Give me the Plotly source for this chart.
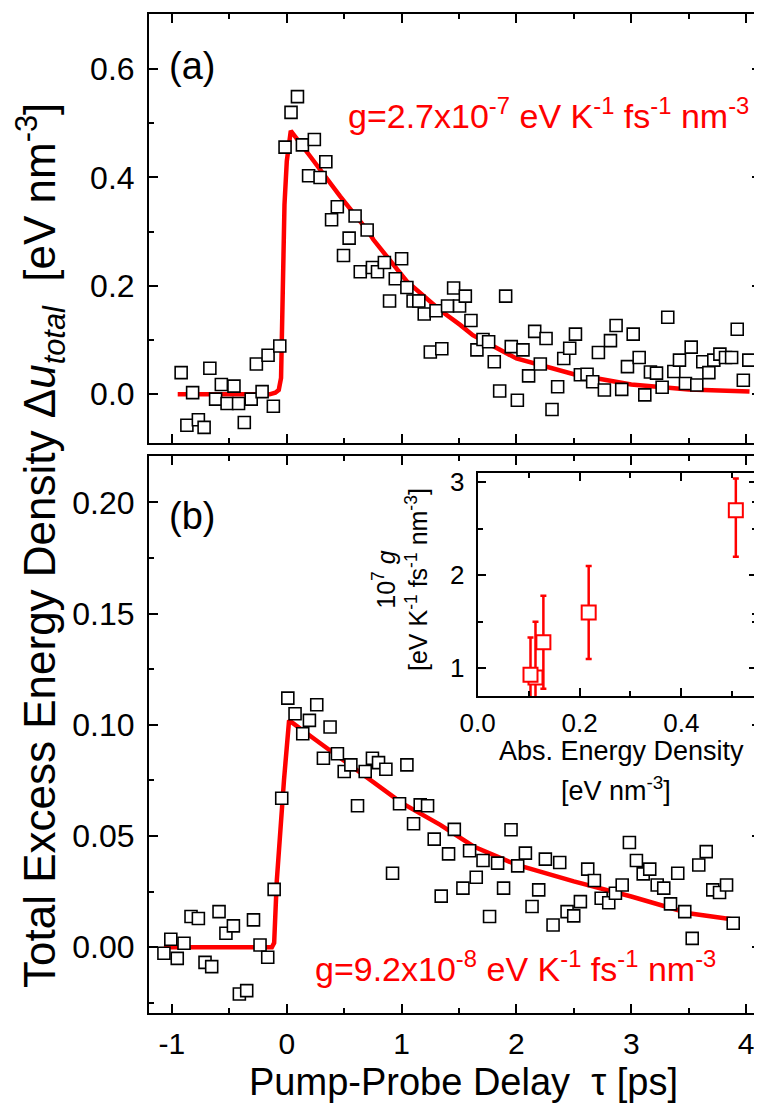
import plotly.graph_objects as go

# ---------------- data: panel (a) ----------------
a_delay = [-0.92, -0.87, -0.82, -0.77, -0.72, -0.67, -0.62, -0.57, -0.52, -0.46,
           -0.42, -0.37, -0.31, -0.265, -0.215, -0.163, -0.117, -0.061, -0.015, 0.037,
           0.093, 0.136, 0.19, 0.24, 0.29, 0.34, 0.39, 0.44, 0.494, 0.543,
           0.595, 0.64, 0.70, 0.746, 0.79, 0.85, 0.895, 0.945, 1.0, 1.046,
           1.10, 1.15, 1.197, 1.25, 1.30, 1.35, 1.40, 1.453, 1.505, 1.555,
           1.604, 1.656, 1.709, 1.758, 1.807, 1.854, 1.906, 1.955, 2.008, 2.057,
           2.106, 2.159, 2.208, 2.258, 2.31, 2.359, 2.412, 2.464, 2.514, 2.557,
           2.615, 2.664, 2.714, 2.766, 2.819, 2.868, 2.917, 2.967, 3.017, 3.069,
           3.118, 3.167, 3.22, 3.269, 3.318, 3.371, 3.42, 3.472, 3.522, 3.571,
           3.623, 3.676, 3.719, 3.772, 3.821, 3.874, 3.923, 3.976, 4.024]
a_energy = [0.040, -0.057, 0.003, -0.047, -0.061, 0.048, -0.009, 0.018, -0.017, 0.015,
            -0.017, -0.052, -0.009, 0.056, 0.005, 0.072, -0.022, 0.089, 0.456, 0.520,
            0.549, 0.460, 0.403, 0.470, 0.400, 0.429, 0.322, 0.346, 0.256, 0.288,
            0.329, 0.226, 0.303, 0.234, 0.226, 0.243, 0.172, 0.213, 0.250, 0.197,
            0.172, 0.172, 0.148, 0.078, 0.154, 0.084, 0.163, 0.196, 0.163, 0.181,
            0.136, 0.082, 0.101, 0.097, 0.060, 0.006, 0.181, 0.088, -0.011, 0.082,
            0.034, 0.116, 0.056, 0.103, -0.028, 0.014, 0.066, 0.085, 0.111, 0.036,
            0.037, 0.023, 0.077, 0.008, 0.099, 0.127, 0.009, 0.051, 0.111, 0.068,
            -0.001, 0.041, 0.039, 0.013, 0.142, 0.042, 0.063, 0.020, 0.087, 0.017,
            0.060, 0.040, 0.063, 0.074, 0.068, 0.068, 0.120, 0.026, 0.063]
a_fit_delay = [-0.95, -0.15, -0.10, -0.07, -0.05, -0.035, -0.02, 0.0, 0.035, 0.2,
               0.465, 0.70, 0.755, 1.046, 1.336, 1.51, 1.62, 2.0, 2.5, 3.0, 3.5, 4.03]
a_fit_energy = [0.0, 0.0, 0.003, 0.008, 0.03, 0.2, 0.35, 0.43, 0.486, 0.44,
                0.365, 0.303, 0.285, 0.208, 0.155, 0.128, 0.109, 0.066, 0.037, 0.018, 0.009, 0.005]

# ---------------- data: panel (b) ----------------
b_delay = [-1.07, -1.01, -0.954, -0.895, -0.834, -0.77, -0.712, -0.654, -0.59, -0.53,
           -0.465, -0.413, -0.349, -0.29, -0.233, -0.166, -0.11, -0.044, 0.009, 0.072,
           0.139, 0.197, 0.261, 0.319, 0.377, 0.441, 0.50, 0.558, 0.616, 0.683,
           0.746, 0.799, 0.863, 0.921, 0.982, 1.046, 1.104, 1.162, 1.226, 1.284,
           1.345, 1.409, 1.459, 1.534, 1.592, 1.65, 1.709, 1.766, 1.836, 1.888,
           1.953, 2.011, 2.078, 2.136, 2.194, 2.252, 2.319, 2.377, 2.441, 2.499,
           2.557, 2.621, 2.679, 2.738, 2.804, 2.862, 2.921, 2.984, 3.045, 3.104,
           3.161, 3.226, 3.283, 3.342, 3.405, 3.466, 3.531, 3.588, 3.653, 3.71,
           3.769, 3.83, 3.888]
b_energy = [-0.0027, 0.0036, -0.005, 0.0018, 0.0138, 0.0129, -0.0068, -0.0087, 0.016, 0.0063,
            0.0096, -0.021, -0.0195, 0.0123, 0.001, -0.0045, 0.026, 0.067, 0.112, 0.105,
            0.096, 0.102, 0.109, 0.085, 0.099, 0.087, 0.079, 0.082, 0.0636, 0.079,
            0.085, 0.083, 0.080, 0.0333, 0.0645, 0.082, 0.0555, 0.064, 0.0636, 0.0486,
            0.023, 0.042, 0.053, 0.0266, 0.0434, 0.0315, 0.039, 0.0138, 0.0378, 0.0266,
            0.0528, 0.0366, 0.0423, 0.0183, 0.0258, 0.0396, 0.010, 0.0381, 0.016, 0.0141,
            0.0205, 0.0351, 0.030, 0.022, 0.020, 0.0243, 0.028, 0.0471, 0.039, 0.033,
            0.0351, 0.028, 0.0266, 0.0195, 0.0333, 0.016, 0.004, 0.037, 0.043, 0.0258,
            0.0246, 0.028, 0.0108]
b_fit_delay = [-1.07, -0.13, -0.11, -0.087, -0.024, 0.02, 0.3, 0.5, 0.842, 1.0,
               1.337, 1.627, 2.005, 2.5, 3.0, 3.5, 3.89]
b_fit_energy = [0.0, 0.0, 0.002, 0.030, 0.0754, 0.102, 0.0914, 0.0839, 0.0709, 0.0649,
                0.055, 0.0453, 0.037, 0.0296, 0.0228, 0.0153, 0.0125]

# ---------------- data: inset ----------------
inset_abs_density = [0.507, 0.218, 0.129, 0.1135, 0.1037]
inset_g = [2.7, 1.6, 1.28, 0.9, 0.93]
inset_err_plus = [0.34, 0.5, 0.5, 0.6, 0.4]
inset_err_minus = [0.5, 0.5, 0.5, 0.6, 0.4]

x_tick_vals = [-1, 0, 1, 2, 3, 4]
x_tick_text = ["-1", "0", "1", "2", "3", "4"]

PAGE_PAD = 8          # default body margin of the html page
W, H = 762 - PAGE_PAD, 1104 - PAGE_PAD
FONT = "Liberation Sans, Arial, Helvetica, sans-serif"
RED = "#ff0000"


def px(x):
    return (x - PAGE_PAD) / W


def py(y):
    return 1 - (y - PAGE_PAD) / H


fig = go.Figure()

# panel (a)
fig.add_trace(go.Scatter(x=a_fit_delay, y=a_fit_energy, mode="lines",
                         line=dict(color=RED, width=4.5), xaxis="x", yaxis="y",
                         showlegend=False, hoverinfo="skip"))
fig.add_trace(go.Scatter(x=a_delay, y=a_energy, mode="markers",
                         marker=dict(symbol="square", size=12, color="white",
                                     line=dict(color="black", width=1.6)),
                         xaxis="x", yaxis="y", showlegend=False))
# panel (b)
fig.add_trace(go.Scatter(x=b_fit_delay, y=b_fit_energy, mode="lines",
                         line=dict(color=RED, width=4.5), xaxis="x2", yaxis="y2",
                         showlegend=False, hoverinfo="skip"))
fig.add_trace(go.Scatter(x=b_delay, y=b_energy, mode="markers",
                         marker=dict(symbol="square", size=12, color="white",
                                     line=dict(color="black", width=1.6)),
                         xaxis="x2", yaxis="y2", showlegend=False))
# inset
fig.add_trace(go.Scatter(x=inset_abs_density, y=inset_g, mode="markers",
                         marker=dict(symbol="square", size=14, color="white",
                                     line=dict(color=RED, width=2)),
                         error_y=dict(type="data", symmetric=False, array=inset_err_plus,
                                      arrayminus=inset_err_minus, color=RED,
                                      thickness=2.5, width=3),
                         xaxis="x3", yaxis="y3", showlegend=False))

xd = [px(149), px(761)]
common = dict(showline=True, linecolor="black", linewidth=2, mirror="ticks",
              ticks="inside", tickwidth=2, tickcolor="black", showgrid=False,
              zeroline=False, automargin=False,
              tickfont=dict(family=FONT, size=32, color="black"))


def minor(d):
    return dict(ticks="inside", ticklen=5, dtick=d, tick0=0, tickwidth=2, tickcolor="black")


xtick_font = dict(family=FONT, size=30, color="black")

fig.update_layout(
    width=W, height=H,
    margin=dict(l=0, r=0, t=0, b=0, autoexpand=False),
    paper_bgcolor="white", plot_bgcolor="rgba(0,0,0,0)",
    font=dict(family=FONT, color="black"),
    xaxis=dict(domain=xd, range=[-1.2, 4.13], anchor="y", tickmode="array",
               tickvals=x_tick_vals, ticktext=x_tick_text, showticklabels=False,
               ticklen=9, minor=minor(0.5), **common),
    yaxis=dict(domain=[py(442.7), py(14)], range=[-0.0893, 0.7015], anchor="x",
               dtick=0.2, tick0=0, tickformat=".1f", ticklen=9, ticklabelstandoff=6,
               minor=minor(0.1), **common),
    yaxis2=dict(domain=[py(1013.3), py(455.7)], range=[-0.0297, 0.221], anchor="x2",
                dtick=0.05, tick0=0, tickformat=".2f", ticklen=9, ticklabelstandoff=6,
                minor=minor(0.025), **common),
)

x2_common = dict(common)
x2_common["tickfont"] = xtick_font
fig.update_layout(
    xaxis2=dict(domain=xd, range=[-1.2, 4.13], anchor="y2", tickmode="array",
                tickvals=x_tick_vals, ticktext=x_tick_text, ticklen=9,
                ticklabelstandoff=3, minor=minor(0.5), **x2_common),
)

inset_common = dict(common)
inset_common["tickfont"] = dict(family=FONT, size=26, color="black")
fig.update_layout(
    xaxis3=dict(domain=[px(477.7), px(756.7)], range=[0, 0.548], anchor="y3",
                dtick=0.2, tick0=0, tickformat=".1f", ticklen=8, ticklabelstandoff=3,
                minor=minor(0.1), **inset_common),
    yaxis3=dict(domain=[py(696), py(473.3)], range=[0.702, 3.097], anchor="x3",
                dtick=1, tick0=0, ticklen=8, ticklabelstandoff=6,
                minor=minor(0.5), **inset_common),
)

ann = []


def add(text, x, y, size, color="black", angle=0, xanchor="center", yanchor="middle"):
    ann.append(dict(text=text, x=px(x), y=py(y), xref="paper", yref="paper",
                    showarrow=False, textangle=angle, xanchor=xanchor, yanchor=yanchor,
                    font=dict(family=FONT, size=size, color=color)))


add("(a)", 192, 66, 38)
add("(b)", 192, 516, 38)
add("g=2.7x10<sup>-7</sup> eV K<sup>-1</sup> fs<sup>-1</sup> nm<sup>-3</sup>", 548, 114, 34, RED)
add("g=9.2x10<sup>-8</sup> eV K<sup>-1</sup> fs<sup>-1</sup> nm<sup>-3</sup>", 515, 966, 34, RED)
add("Total Excess Energy Density \u0394<i>u</i><sub><i>total</i></sub>  [eV nm<sup>-3</sup>]",
    40, 546, 44, angle=-90)
add("Pump-Probe Delay  \u03c4 [ps]", 464, 1082, 38)
add("10<sup>7</sup> <i>g</i><br>[eV K<sup>-1</sup> fs<sup>-1</sup> nm<sup>-3</sup>]",
    400, 580, 25, angle=-90)
add("Abs. Energy Density", 621, 751, 27)
add("[eV nm<sup>-3</sup>]", 616, 789, 27)

fig.update_layout(annotations=ann)

fig.write_html("out.html")
